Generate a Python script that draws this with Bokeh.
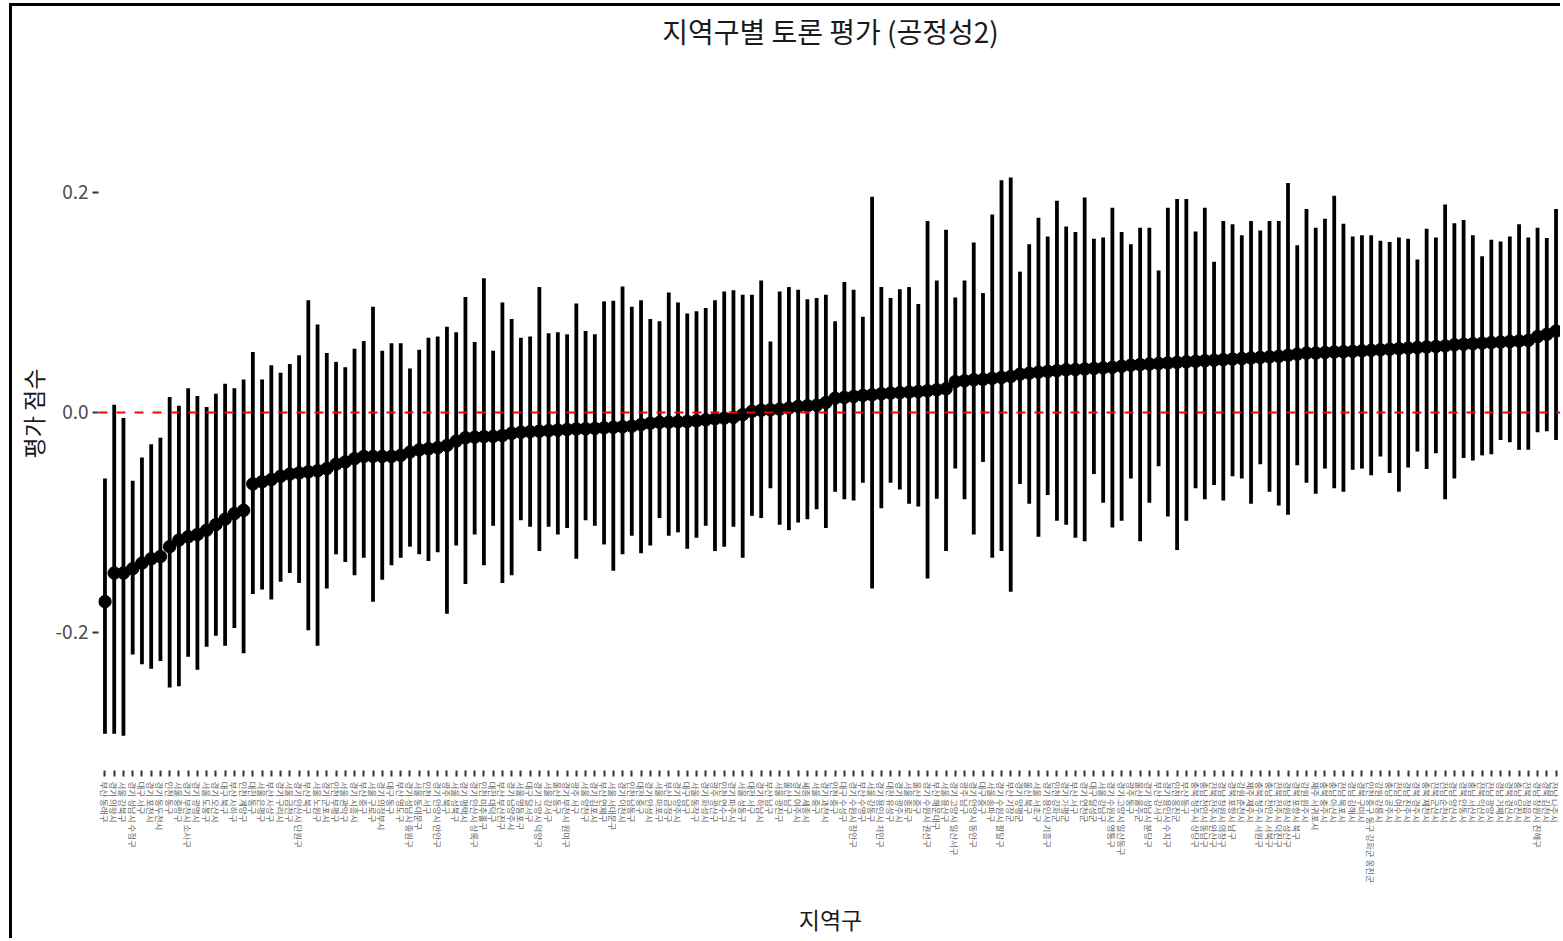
from bokeh.plotting import figure
from bokeh.models import FactorRange, Range1d, Span, FixedTicker, NumeralTickFormatter, ColumnDataSource
from bokeh.embed import file_html
from bokeh.resources import INLINE

districts = [
    "부산 동래구", "경기 의왕시", "서울 강북구", "경기 성남시 수정구", "대구 서구", "경기 포천시", "경기 동두천시", "인천 동구", "서울 중랑구", "경기 부천시 소사구",
    "경기 광명시", "서울 도봉구", "경기 오산시", "대구 북구", "부산 사하구", "인천 계양구", "대전 동구", "서울 은평구", "부산 사상구", "경기 구리시",
    "서울 금천구", "경기 안산시 단원구", "부산 북구", "서울 노원구", "경기 군포시", "인천 부평구", "서울 관악구", "경기 시흥시", "부산 중구", "서울 구로구",
    "경기 의정부시", "대구 동구", "부산 영도구", "경기 성남시 중원구", "서울 동대문구", "인천 서구", "경기 안양시 만안구", "광주 북구", "서울 성북구", "경기 평택시",
    "경기 안산시 상록구", "인천 미추홀구", "대전 대덕구", "부산 부산진구", "경기 남양주시", "서울 영등포구", "대구 달서구", "경기 고양시 덕양구", "서울 강서구", "울산 동구",
    "경기 부천시 원미구", "광주 서구", "서울 양천구", "경기 김포시", "부산 연제구", "서울 서대문구", "경기 이천시", "인천 남동구", "대전 중구", "경기 안성시",
    "서울 마포구", "부산 금정구", "경기 양주시", "대구 남구", "서울 동작구", "경기 화성시", "광주 광산구", "인천 연수구", "경기 파주시", "서울 성동구",
    "대전 서구", "경기 하남시", "부산 남구", "서울 광진구", "울산 남구", "경기 여주시", "세종 세종시", "서울 중구", "경기 과천시", "인천 중구",
    "대구 수성구", "경기 수원시 장안구", "부산 수영구", "서울 강동구", "경기 용인시 처인구", "대전 유성구", "경기 광주시", "서울 종로구", "울산 중구", "경기 수원시 권선구",
    "부산 해운대구", "서울 용산구", "경기 고양시 일산서구", "광주 남구", "경기 안양시 동안구", "대구 중구", "서울 송파구", "경기 수원시 팔달구", "부산 기장군", "경기 양평군",
    "울산 북구", "서울 서초구", "경기 용인시 기흥구", "인천 강화군", "경기 가평군", "부산 서구", "경기 연천군", "대구 달성군", "서울 강남구", "경기 수원시 영통구",
    "경기 고양시 일산동구", "광주 동구", "울산 울주군", "경기 성남시 분당구", "부산 강서구", "경기 용인시 수지구", "인천 옹진군", "부산 동구", "충북 청주시 상당구", "충남 천안시 동남구",
    "전북 전주시 완산구", "경남 창원시 의창구", "경북 포항시 남구", "강원 춘천시", "제주 제주시", "충북 청주시 서원구", "충남 천안시 서북구", "전북 전주시 덕진구", "경남 창원시 성산구", "경북 포항시 북구",
    "강원 원주시", "제주 서귀포시", "충북 충주시", "충남 아산시", "전남 목포시", "경남 김해시", "경북 구미시", "인천 중구 동구 강화군 옹진군", "강원 강릉시", "충남 공주시",
    "전남 여수시", "경남 진주시", "경북 경주시", "충북 제천시", "전북 군산시", "전남 순천시", "경남 양산시", "경북 안동시", "충남 서산시", "전북 익산시",
    "전남 광양시", "경남 거제시", "경북 경산시", "충남 당진시", "전북 정읍시", "경남 창원시 진해구", "경북 김천시", "전남 나주시",
]

estimate = [
    -0.172, -0.146, -0.146, -0.142, -0.137, -0.133, -0.131, -0.122, -0.116, -0.113,
    -0.111, -0.107, -0.102, -0.097, -0.092, -0.089, -0.065, -0.063, -0.061, -0.058,
    -0.056, -0.055, -0.054, -0.053, -0.051, -0.047, -0.045, -0.042, -0.040, -0.040,
    -0.040, -0.040, -0.039, -0.036, -0.034, -0.033, -0.032, -0.030, -0.026, -0.023,
    -0.0225, -0.022, -0.0218, -0.021, -0.019, -0.018, -0.0175, -0.017, -0.0165, -0.016,
    -0.0155, -0.015, -0.0148, -0.0145, -0.014, -0.0135, -0.013, -0.0125, -0.011, -0.0098,
    -0.009, -0.0088, -0.0085, -0.0082, -0.0076, -0.0067, -0.0058, -0.0052, -0.0045, -0.002,
    0.001, 0.002, 0.0025, 0.003, 0.004, 0.0055, 0.006, 0.0065, 0.009, 0.013,
    0.0136, 0.0145, 0.0155, 0.016, 0.017, 0.0176, 0.018, 0.0185, 0.019, 0.0197,
    0.0206, 0.0215, 0.028, 0.0288, 0.0297, 0.030, 0.031, 0.0318, 0.0327, 0.0348,
    0.0357, 0.0366, 0.0373, 0.038, 0.0388, 0.039, 0.0395, 0.040, 0.0405, 0.041,
    0.042, 0.043, 0.0435, 0.044, 0.0445, 0.045, 0.0455, 0.046, 0.0465, 0.047,
    0.0475, 0.048, 0.0485, 0.049, 0.0495, 0.050, 0.0505, 0.051, 0.052, 0.053,
    0.054, 0.054, 0.0545, 0.055, 0.0552, 0.0555, 0.056, 0.0565, 0.057, 0.0575,
    0.058, 0.0585, 0.059, 0.0595, 0.060, 0.0605, 0.0615, 0.062, 0.0625, 0.063,
    0.0635, 0.064, 0.0645, 0.065, 0.0655, 0.069, 0.071, 0.074,
]

lower = [
    -0.292, -0.292, -0.294, -0.220, -0.229, -0.233, -0.226, -0.250, -0.249, -0.222,
    -0.234, -0.213, -0.203, -0.212, -0.196, -0.219, -0.165, -0.161, -0.170, -0.154,
    -0.146, -0.155, -0.198, -0.212, -0.160, -0.129, -0.136, -0.148, -0.132, -0.172,
    -0.152, -0.139, -0.132, -0.122, -0.129, -0.135, -0.127, -0.183, -0.121, -0.156,
    -0.111, -0.139, -0.103, -0.155, -0.148, -0.098, -0.104, -0.126, -0.104, -0.111,
    -0.105, -0.133, -0.098, -0.103, -0.120, -0.144, -0.129, -0.112, -0.128, -0.121,
    -0.096, -0.112, -0.109, -0.124, -0.114, -0.103, -0.126, -0.122, -0.104, -0.132,
    -0.094, -0.096, -0.069, -0.102, -0.107, -0.100, -0.097, -0.088, -0.105, -0.072,
    -0.079, -0.080, -0.064, -0.160, -0.087, -0.064, -0.070, -0.083, -0.0855, -0.151,
    -0.0785, -0.126, -0.051, -0.079, -0.111, -0.045, -0.132, -0.126, -0.163, -0.065,
    -0.083, -0.113, -0.075, -0.0985, -0.102, -0.114, -0.117, -0.056, -0.082, -0.1045,
    -0.0985, -0.060, -0.117, -0.082, -0.049, -0.0945, -0.125, -0.0985, -0.069, -0.079,
    -0.066, -0.080, -0.058, -0.060, -0.083, -0.047, -0.072, -0.0845, -0.093, -0.048,
    -0.064, -0.074, -0.051, -0.069, -0.072, -0.052, -0.051, -0.057, -0.040, -0.055,
    -0.072, -0.050, -0.0355, -0.0515, -0.037, -0.079, -0.060, -0.0415, -0.0436, -0.039,
    -0.038, -0.025, -0.027, -0.034, -0.034, -0.018, -0.017, -0.025,
]

upper = [
    -0.060, 0.007, -0.005, -0.062, -0.041, -0.029, -0.023, 0.014, 0.006, 0.022,
    0.015, 0.005, 0.017, 0.026, 0.022, 0.030, 0.055, 0.030, 0.043, 0.036,
    0.044, 0.052, 0.102, 0.080, 0.054, 0.046, 0.041, 0.058, 0.065, 0.096,
    0.056, 0.063, 0.063, 0.040, 0.057, 0.068, 0.069, 0.078, 0.073, 0.105,
    0.064, 0.122, 0.056, 0.100, 0.085, 0.068, 0.069, 0.114, 0.072, 0.073,
    0.071, 0.099, 0.074, 0.071, 0.101, 0.1015, 0.1145, 0.096, 0.102, 0.085,
    0.083, 0.109, 0.100, 0.090, 0.092, 0.095, 0.102, 0.110, 0.111, 0.107,
    0.107, 0.120, 0.0645, 0.110, 0.114, 0.1115, 0.103, 0.104, 0.107, 0.083,
    0.1185, 0.1115, 0.087, 0.196, 0.114, 0.104, 0.112, 0.114, 0.0985, 0.174,
    0.120, 0.166, 0.1045, 0.120, 0.1545, 0.1085, 0.180, 0.211, 0.2136, 0.128,
    0.153, 0.177, 0.160, 0.1924, 0.169, 0.164, 0.1955, 0.158, 0.159, 0.186,
    0.164, 0.153, 0.168, 0.168, 0.129, 0.186, 0.194, 0.194, 0.1645, 0.186,
    0.137, 0.174, 0.171, 0.161, 0.174, 0.1655, 0.174, 0.174, 0.2085, 0.152,
    0.185, 0.168, 0.176, 0.197, 0.1715, 0.160, 0.161, 0.161, 0.156, 0.155,
    0.159, 0.158, 0.139, 0.167, 0.159, 0.189, 0.172, 0.175, 0.161, 0.142,
    0.157, 0.1555, 0.160, 0.171, 0.159, 0.168, 0.1585, 0.185,
]

y_ticks = [-0.2, 0.0, 0.2]
title_text = "지역구별 토론 평가 (공정성2)"

FONT = "Noto Sans CJK KR"

src = ColumnDataSource(dict(district=districts, est=estimate, lo=lower, hi=upper))

p = figure(
    x_range=FactorRange(factors=districts, range_padding=0.2, range_padding_units="absolute"),
    y_range=Range1d(-0.3255, 0.3236),
    width=1551, height=935,
    output_backend="svg", toolbar_location=None,
    min_border_left=85, min_border_right=1, min_border_top=49, min_border_bottom=171,
    title=title_text,
)
p.styles = {"margin-left": "9px", "margin-top": "3px",
            "border-left": "3px solid black", "border-top": "3px solid black"}

p.title.align = "center"
p.title.vertical_align = "top"
p.title.standoff = 8
p.title.text_font = FONT
p.title.text_font_size = "28px"
p.title.text_font_style = "normal"
p.title.text_color = "#1a1a1a"

p.segment(x0="district", y0="lo", x1="district", y1="hi", source=src,
          line_color="black", line_width=3.8)
p.scatter(x="district", y="est", source=src, size=12.5, color="black")

p.add_layout(Span(location=0, dimension="width", line_color="red",
                  line_width=2, line_dash="9 9"))

p.xgrid.visible = False
p.ygrid.visible = False
p.outline_line_color = None
p.background_fill_color = "white"
p.border_fill_color = "white"

for ax in (p.xaxis[0], p.yaxis[0]):
    ax.axis_line_color = None
    ax.major_tick_in = 0
    ax.major_tick_out = 6
    ax.major_tick_line_width = 2
    ax.major_tick_line_color = "#333333"
    ax.minor_tick_line_color = None
    ax.major_label_text_color = "#4d4d4d"
    ax.major_label_text_font = FONT
    ax.axis_label_text_font = FONT
    ax.axis_label_text_font_style = "normal"
    ax.axis_label_text_font_size = "23px"
    ax.axis_label_text_color = "#1a1a1a"

p.xaxis.axis_label = "지역구"
p.xaxis.major_label_orientation = "vertical"
p.xaxis.major_label_text_font_size = "8.5px"
p.xaxis.major_label_text_color = "#666666"
p.xaxis.major_label_standoff = 5
p.xaxis.axis_label_standoff = 16

p.yaxis.axis_label = "평가 점수"
p.yaxis.ticker = FixedTicker(ticks=y_ticks)
p.yaxis.formatter = NumeralTickFormatter(format="0.0")
p.yaxis.major_label_text_font_size = "19px"
p.yaxis.major_label_standoff = 4
p.yaxis.axis_label_standoff = 3

open("out.html", "w").write(file_html(p, INLINE))
